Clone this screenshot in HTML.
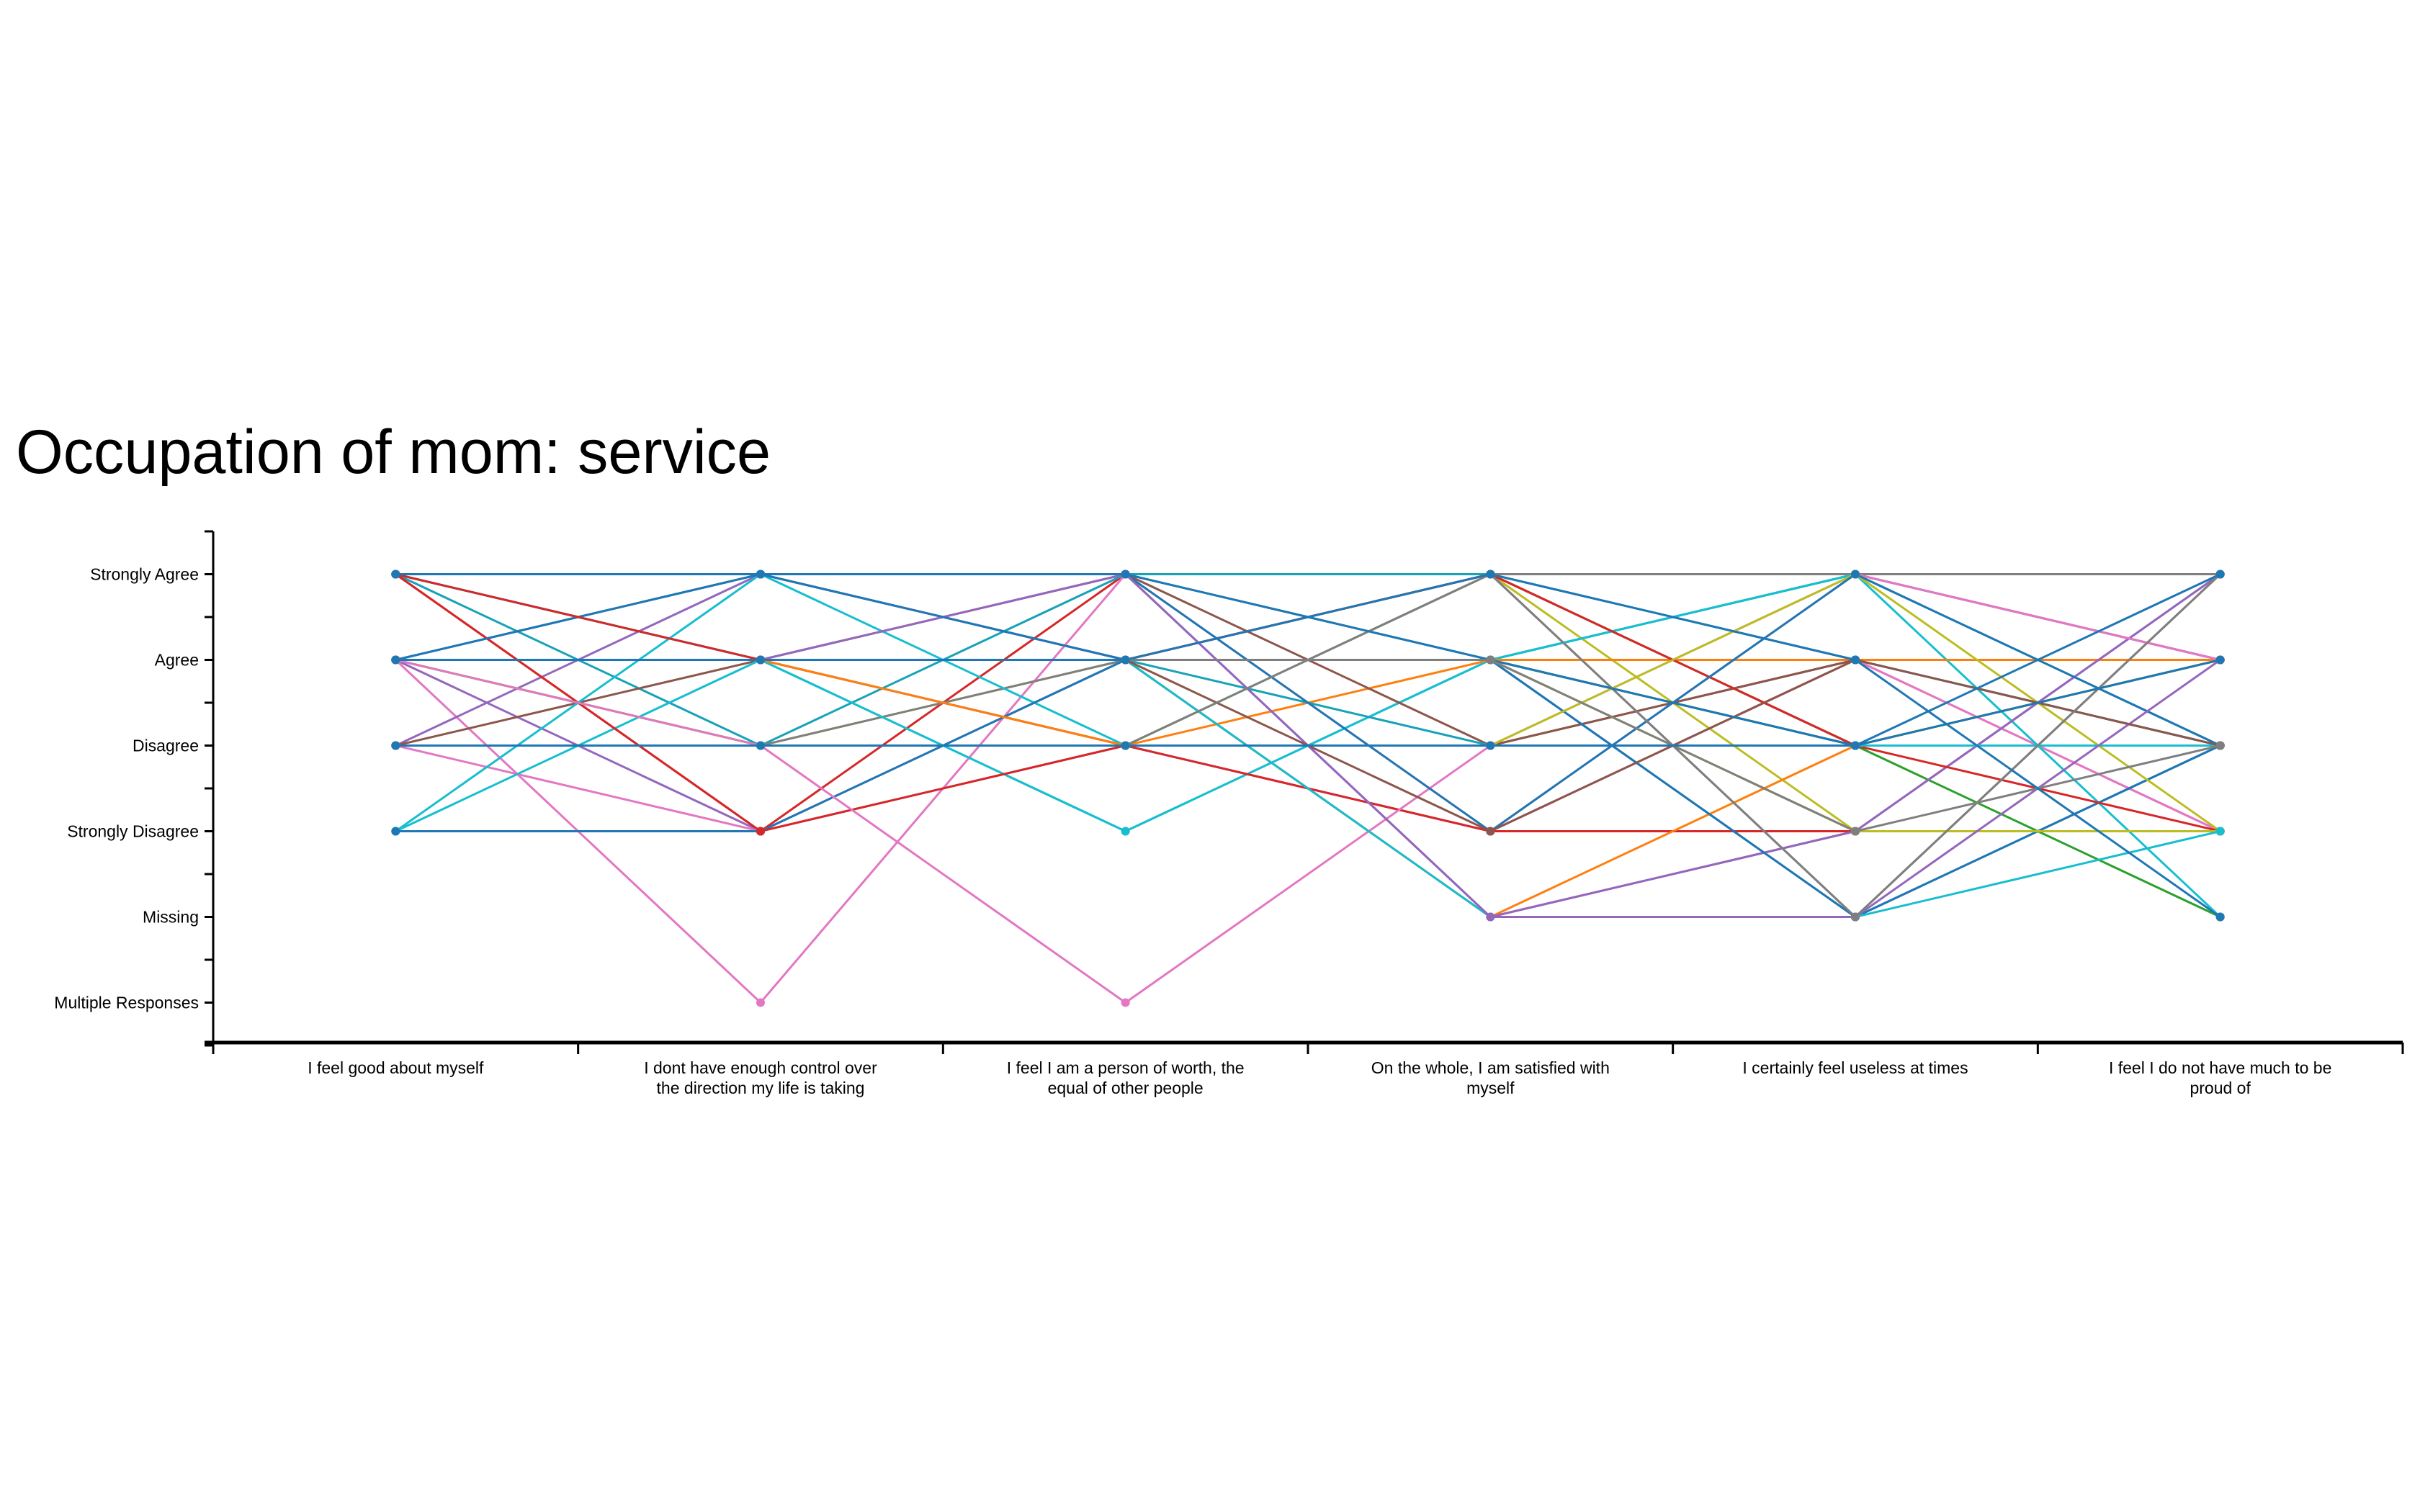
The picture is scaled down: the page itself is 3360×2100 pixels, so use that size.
<!DOCTYPE html>
<html><head><meta charset="utf-8"><style>
html,body{margin:0;padding:0;background:#fff;}
svg{display:block;}
text{font-family:"Liberation Sans",sans-serif;}
</style></head>
<body>
<svg id="chart" width="3360" height="2100" viewBox="0 0 3360 2100" xmlns="http://www.w3.org/2000/svg">
<text x="22" y="657" font-size="86" textLength="1048" lengthAdjust="spacingAndGlyphs" fill="#000">Occupation of mom: service</text>
<g id="axes"></g>
<g id="lines"></g>
<g id="dots"></g>
</svg>
<script>
const levels = ["Strongly Agree","Agree","Disagree","Strongly Disagree","Missing","Multiple Responses"];
const questions = [
 ["I feel good about myself"],
 ["I dont have enough control over","the direction my life is taking"],
 ["I feel I am a person of worth, the","equal of other people"],
 ["On the whole, I am satisfied with","myself"],
 ["I certainly feel useless at times"],
 ["I feel I do not have much to be","proud of"]
];
const s01 = [0,0,0,0,3,3];
const s02 = [0,3,0,0,2,2];
const s03 = [0,1,3,1,0,1];
const s04 = [0,2,0,1,0,2];
const s05 = [1,0,1,1,2,2];
const s06 = [1,1,2,3,1,3];
const s07 = [1,2,1,1,3,3];
const s08 = [1,3,1,4,3,0];
const s09 = [1,5,0,3,0,1];
const s10 = [2,0,1,0,0,1];
const s11 = [2,1,2,2,1,1];
const s12 = [2,2,1,0,0,0];
const s13 = [2,3,2,3,1,3];
const s14 = [3,1,3,1,0,4];
const s15 = [3,0,2,2,2,2];
const s16 = [3,3,1,1,4,2];
const s17 = [0,3,2,3,3,3];
const s18 = [1,1,1,4,2,1];
const s19 = [1,1,2,1,1,1];
const s20 = [1,2,2,0,2,4];
const s21 = [1,1,1,1,2,1];
const s22 = [1,1,0,2,1,2];
const s23 = [0,1,1,2,2,2];
const s24 = [1,1,0,4,3,0];
const s25 = [1,1,1,0,4,0];
const s26 = [1,2,5,2,0,1];
const s27 = [1,0,1,1,4,2];
const s28 = [0,0,0,0,1,2];
const s29 = [0,1,1,0,2,3];
const s30 = [1,1,1,1,3,3];
const s31 = [2,2,2,2,0,3];
const s32 = [2,2,2,2,2,2];
const s33 = [0,0,0,3,0,2];
const s34 = [1,1,1,4,4,3];
const s35 = [0,0,0,4,4,1];
const s36 = [1,1,1,3,1,2];
const s37 = [2,2,2,0,4,0];
const s38 = [0,0,0,1,2,0];
const s39 = [1,1,1,1,3,2];
const s40 = [1,1,1,0,1,4];
const s41 = [2,2,2,2,2,1];
const series = [s01,s02,s03,s04,s05,s06,s07,s08,s09,s10,s11,s12,s13,s14,s15,s16,s17,s18,s19,s20,s21,s22,s23,s24,s25,s26,s27,s28,s29,s30,s31,s32,s33,s34,s35,s36,s37,s38,s39,s40,s41];
const palette = ["#bcbd22","#d62728","#17becf","#17a2b8","#1f77b4","#e377c2","#bcbd22","#9467bd","#e377c2","#9467bd","#8c564b","#7f7f7f","#e377c2","#17becf","#17becf","#1f77b4","#d62728","#ff7f0e","#ff7f0e","#2ca02c","#2ca02c","#8c564b","#17a2b8","#9467bd","#7f7f7f","#e377c2","#1f77b4","#17a2b8","#d62728","#bcbd22","#bcbd22","#17becf","#1f77b4","#17becf","#9467bd","#8c564b","#7f7f7f","#1f77b4","#7f7f7f","#1f77b4","#1f77b4"];

const NS="http://www.w3.org/2000/svg";
const X0=296, X1=3336, Y0=738, STEP=119;
const band=(X1-X0)/questions.length;
function xPos(i){return X0+band*(i+0.5);}
function yPos(v){return Y0+STEP*(v+0.5);}
const Ybot=Y0+STEP*levels.length;
function mk(tag,attrs,parent){const e=document.createElementNS(NS,tag);for(const k in attrs)e.setAttribute(k,attrs[k]);parent.appendChild(e);return e;}
const axes=document.getElementById('axes'), lines=document.getElementById('lines'), dots=document.getElementById('dots');

let yl=mk('line',{x1:X0,y1:Y0,x2:X0,y2:Ybot,stroke:'#000','stroke-width':3},axes);


for(let k=0;k<=levels.length*2;k++){
  const y=Y0+STEP/2*k;
  const t=mk('line',{x1:X0-12,y1:y,x2:X0,y2:y,stroke:'#000','stroke-width':3},axes);
  
  
}
levels.forEach((l,i)=>{
  const t=mk('text',{x:X0-20,y:yPos(i)+8,'text-anchor':'end','font-size':23,fill:'#000'},axes);
  t.textContent=l;
  
  
});
let xl=mk('line',{x1:X0-12,y1:Ybot-4,x2:X1,y2:Ybot-4,stroke:'#000','stroke-width':5},axes);


for(let k=0;k<=questions.length;k++){
  const x=X0+band*k;
  const t=mk('line',{x1:x,y1:Ybot-4,x2:x,y2:Ybot+12,stroke:'#000','stroke-width':3},axes);
  
  
}
questions.forEach((q,i)=>{
  q.forEach((ln,j)=>{
    const t=mk('text',{x:xPos(i),y:1491+28*j,'text-anchor':'middle','font-size':23,fill:'#000'},axes);
    t.textContent=ln;
    
    
  });
});
series.forEach((s,si)=>{
  const c=palette[si%palette.length];
  const d=s.map((v,i)=>(i?'L':'M')+xPos(i)+','+yPos(v)).join(' ');
  const p=mk('path',{d:d,fill:'none',stroke:c,'stroke-width':3},lines);
  
  
  s.forEach((v,i)=>{
    const ci=mk('circle',{cx:xPos(i),cy:yPos(v),r:6,fill:c},dots);
    
    
  });
});
</script>
</body></html>
